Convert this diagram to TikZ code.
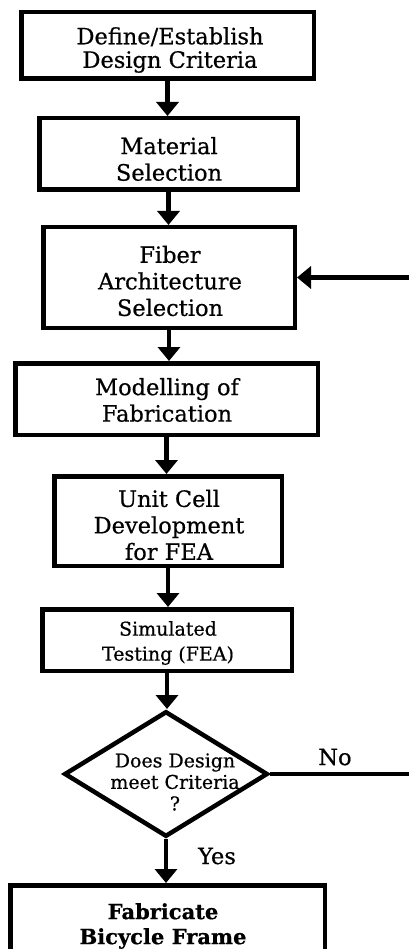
\documentclass[tikz,border=0pt]{standalone}
\usepackage{fontspec}
\setmainfont{DejaVu Serif}[FakeBold=0.6]
\usetikzlibrary{arrows.meta,shapes.geometric}
\begin{document}
\begin{tikzpicture}[x=1pt,y=-1pt,
  stepbox/.style={draw, rectangle, line width=4.5pt, inner sep=0pt},
  boxtext/.style={align=center, inner sep=0pt, font=\fontsize{22.5}{26.5}\selectfont},
  flow/.style={line width=4.5pt, -{Triangle[width=22pt,length=14pt]}},
  decision/.style={draw, diamond, line width=4.5pt, inner sep=0pt},
  tag/.style={inner sep=0pt, font=\fontsize{22.5}{26}\selectfont}]
\useasboundingbox (0,0) rectangle (409,949);
\clip (0,0) rectangle (409,949);

% process steps: frames
\node[stepbox, minimum width=292.5pt, minimum height=66.5pt] (b1) at (167.5,45.5) {};
\node[stepbox, minimum width=258.5pt, minimum height=71.5pt] (b2) at (168.5,154) {};
\node[stepbox, minimum width=251.5pt, minimum height=100.5pt] (b3) at (169,277.5) {};
\node[stepbox, minimum width=302.5pt, minimum height=71.5pt] (b4) at (166.5,399) {};
\node[stepbox, minimum width=227.5pt, minimum height=89.5pt] (b5) at (168,521) {};
\node[stepbox, minimum width=249.5pt, minimum height=61.5pt] (b6) at (167,640) {};
\node[stepbox, minimum width=314.5pt, minimum height=79.5pt] (b7) at (167.5,925) {};

% process steps: texts
\node[boxtext, font=\fontsize{22.5}{23.5}\selectfont] (t1) at (170,50) {Define/Establish\\Design Criteria};
\node[boxtext] (t2) at (169,159) {Material\\Selection};
\node[boxtext] (t3) at (170,281) {Fiber\\Architecture\\Selection};
\node[boxtext] (t4) at (167,400) {Modelling of\\Fabrication};
\node[boxtext] (t5) at (169,525) {Unit Cell\\Development\\for FEA};
\node[boxtext, font=\fontsize{19}{25}\selectfont] (t6) at (168,643) {Simulated\\Testing (FEA)};
\node[boxtext, font=\bfseries\fontsize{21}{25}\selectfont] (t7) at (163,926) {Fabricate\\Bicycle Frame};

% decision
\node[decision, minimum width=203.5pt, minimum height=125.5pt] (d) at (166,774) {};
\node[boxtext, font=\fontsize{19}{21.5}\selectfont] (dt) at (175,782) {Does Design\\meet Criteria\\?};

% connectors
\draw[flow] (b1.south) -- (b1.south |- b2.north);
\draw[flow] (b2.south) -- (b2.south |- b3.north);
\draw[flow] (b3.south) -- (b3.south |- b4.north);
\draw[flow] (b4.south) -- (b4.south |- b5.north);
\draw[flow] (b5.south) -- (b5.south |- b6.north);
\draw[flow] (b6.south) -- (b6.south |- d.north);
\draw[flow] (d.south) -- (d.south |- b7.north);
\coordinate (loop) at (440,774);
\draw[flow] (d.east) -- (loop) |- (b3.east);

% branch labels
\node[tag] (no) at (335,757) {No};
\node[tag] (yes) at (217,856) {Yes};
\end{tikzpicture}
\end{document}
